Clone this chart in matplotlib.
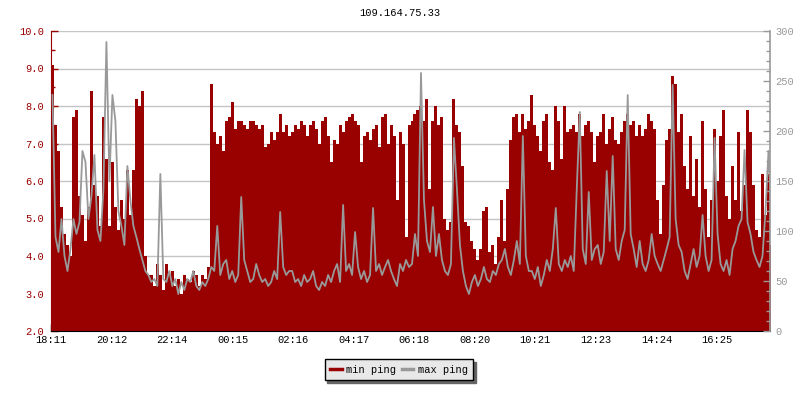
import numpy as np
import matplotlib
matplotlib.use("Agg")
import matplotlib.pyplot as plt
from matplotlib.ticker import MultipleLocator, FormatStrFormatter
from matplotlib.lines import Line2D

plt.rcParams['font.family'] = ['Liberation Mono', 'DejaVu Sans Mono']

title = "109.164.75.33"
step_minutes = 6
start_label = "18:11"
tick_labels = ["18:11", "20:12", "22:14", "00:15", "02:16", "04:17",
               "06:18", "08:20", "10:21", "12:23", "14:24", "16:25"]

# min ping (left axis, ms)
min_ping = [
    9.1, 7.5, 6.8, 5.3, 4.6, 4.3, 4.0, 7.7, 7.9, 5.6, 5.1, 4.4, 5.3, 8.4, 5.9, 5.6, 4.8, 7.7, 6.6, 4.8,
    6.5, 5.3, 4.7, 5.5, 5.0, 6.3, 5.1, 6.3, 8.2, 8.0, 8.4, 4.0, 3.5, 3.5, 3.2, 3.8, 3.5, 3.1, 3.8, 3.5,
    3.6, 3.2, 3.4, 3.0, 3.5, 3.4, 3.3, 3.6, 3.5, 3.2, 3.5, 3.4, 3.7, 8.6, 7.3, 7.0, 7.2, 6.8, 7.6, 7.7,
    8.1, 7.4, 7.6, 7.6, 7.5, 7.4, 7.6, 7.6, 7.5, 7.4, 7.5, 6.9, 7.0, 7.3, 7.1, 7.3, 7.8, 7.3, 7.5, 7.2,
    7.3, 7.5, 7.4, 7.6, 7.5, 7.2, 7.5, 7.6, 7.4, 7.0, 7.6, 7.7, 7.2, 6.5, 7.1, 7.0, 7.5, 7.3, 7.6, 7.7,
    7.8, 7.6, 7.5, 6.5, 7.2, 7.3, 7.1, 7.4, 7.5, 6.9, 7.7, 7.8, 7.0, 7.5, 7.2, 5.5, 7.3, 7.0, 4.5, 7.5,
    7.6, 7.8, 7.9, 8.0, 7.6, 8.2, 5.8, 7.6, 8.0, 7.5, 7.7, 5.0, 4.7, 4.9, 8.2, 7.5, 7.3, 6.4, 4.9, 4.8,
    4.4, 4.2, 3.9, 4.2, 5.2, 5.3, 4.1, 4.3, 3.8, 4.5, 5.5, 4.4, 5.8, 7.1, 7.7, 7.8, 7.3, 7.8, 7.4, 7.6,
    8.3, 7.5, 7.2, 6.8, 7.6, 7.8, 6.5, 6.3, 8.0, 7.6, 6.6, 8.0, 7.3, 7.4, 7.5, 7.3, 7.8, 7.2, 7.5, 7.6,
    7.3, 6.5, 7.2, 7.3, 7.8, 7.0, 7.4, 7.7, 7.1, 7.0, 7.3, 7.6, 7.8, 7.5, 7.6, 7.2, 7.5, 7.2, 7.4, 7.8,
    7.6, 7.4, 5.5, 4.6, 5.9, 7.1, 7.4, 8.8, 8.6, 7.3, 7.8, 6.4, 5.8, 7.2, 5.6, 6.6, 5.3, 7.6, 5.8, 4.5,
    5.5, 7.4, 6.0, 7.2, 7.9, 5.6, 5.0, 6.4, 5.5, 7.3, 5.2, 5.9, 7.9, 7.3, 5.9, 4.7, 4.5, 6.2, 5.1, 6.2,
    4.3,
]

# max ping (right axis, ms)
max_ping = [
    236, 94, 79, 112, 75, 60, 82, 112, 97, 109, 180, 169, 112, 135, 176, 101, 90, 142, 289, 150,
    236, 210, 120, 105, 86, 165, 131, 105, 94, 82, 71, 60, 56, 49, 52, 45, 157, 52, 49, 60,
    45, 52, 37, 49, 41, 52, 49, 60, 45, 41, 49, 45, 52, 64, 60, 105, 56, 67, 71, 52,
    60, 49, 56, 134, 71, 60, 49, 52, 67, 56, 49, 52, 45, 49, 60, 52, 119, 64, 56, 60,
    60, 49, 52, 45, 56, 49, 52, 60, 45, 41, 49, 45, 56, 49, 60, 67, 49, 126, 60, 67,
    56, 99, 64, 52, 60, 49, 56, 123, 60, 67, 56, 64, 71, 60, 52, 45, 67, 60, 71, 64,
    67, 97, 75, 258, 131, 90, 79, 124, 75, 97, 71, 60, 56, 67, 193, 142, 86, 60, 45, 37,
    49, 56, 45, 52, 64, 52, 49, 60, 56, 67, 71, 82, 64, 56, 71, 90, 67, 195, 75, 60,
    60, 52, 64, 45, 56, 71, 60, 82, 123, 67, 60, 71, 64, 75, 60, 142, 219, 82, 67, 139,
    71, 82, 86, 67, 79, 160, 90, 175, 82, 71, 90, 101, 236, 97, 82, 64, 90, 67, 60, 71,
    97, 75, 67, 60, 71, 82, 94, 246, 112, 86, 79, 60, 52, 67, 82, 64, 75, 116, 75, 60,
    71, 193, 97, 67, 60, 71, 56, 82, 90, 105, 112, 181, 109, 97, 79, 71, 64, 75, 120, 180,
    116,
]

RED = "#990000"
GRAY = "#999999"


def to_min(s):
    h, m = s.split(":")
    return int(h) * 60 + int(m)


t0 = to_min(start_label)
tick_pos = [(to_min(s) - t0) % 1440 for s in tick_labels]

n = len(min_ping)
edges = np.arange(n + 1) * step_minutes
mins = np.array(min_ping, dtype=float)
maxs = np.array(max_ping, dtype=float)

fig = plt.figure(figsize=(8, 4), dpi=100)
ax = fig.add_axes([51 / 800, 69 / 400, 719 / 800, 300 / 400])
ax2 = ax.twinx()

ax.set_xlim(0, 1440)
ax.set_ylim(2.0, 10.0)
ax2.set_ylim(0, 300)

ax.yaxis.set_major_locator(MultipleLocator(1.0))
ax.yaxis.set_minor_locator(MultipleLocator(0.5))
ax.yaxis.set_major_formatter(FormatStrFormatter("%.1f"))
ax.grid(axis="y", which="major", color="#c4c4c4", linewidth=1.0, zorder=0)
ax.set_axisbelow(True)

ax.fill_between(edges, 2.0, np.append(mins, mins[-1]), step="post",
                color=RED, linewidth=0, zorder=2)

xc = edges[:-1] + step_minutes / 2
ax2.plot(xc, maxs, color=GRAY, linewidth=1.3, zorder=3)

ax.set_xticks(tick_pos)
ax.set_xticklabels(tick_labels)

ax2.yaxis.set_major_locator(MultipleLocator(50))
ax2.yaxis.set_minor_locator(MultipleLocator(10))

fs = 7.5
ax.tick_params(axis="x", direction="in", length=5, width=1, colors="black",
               labelsize=fs, pad=3)
ax.tick_params(axis="y", which="major", direction="in", length=5, width=1,
               colors=RED, labelsize=fs, pad=5)
ax.tick_params(axis="y", which="minor", direction="in", length=3, width=1, colors=RED)
ax2.tick_params(axis="y", which="major", direction="in", length=5, width=1,
                colors=GRAY, labelsize=fs, pad=4)
ax2.tick_params(axis="y", which="minor", direction="in", length=3, width=1, colors=GRAY)

for s in ["top", "right"]:
    ax.spines[s].set_visible(False)
ax.spines["left"].set_color(RED)
ax.spines["bottom"].set_color("black")
for s in ["top", "left", "bottom"]:
    ax2.spines[s].set_visible(False)
ax2.spines["right"].set_color(GRAY)
ax2.spines["right"].set_linewidth(1.2)

fig.text(0.5, 1 - 13 / 400, title, ha="center", va="center", fontsize=fs)

handles = [Line2D([0], [0], color=RED, linewidth=2.5),
           Line2D([0], [0], color=GRAY, linewidth=2.5)]
leg = fig.legend(handles, ["min ping", "max ping"], loc="upper center",
                 bbox_to_anchor=(399 / 800, 1 - 359 / 400), ncol=2,
                 frameon=True, fancybox=False, shadow={"color": "#666666", "alpha": 1},
                 edgecolor="black", facecolor="#e8e8e8", framealpha=1,
                 fontsize=fs, handlelength=1.1, handletextpad=0.45,
                 columnspacing=0.5, borderpad=0.55, borderaxespad=0)
leg.get_frame().set_linewidth(1.0)

fig.savefig("out.png", dpi=100, facecolor="white")
